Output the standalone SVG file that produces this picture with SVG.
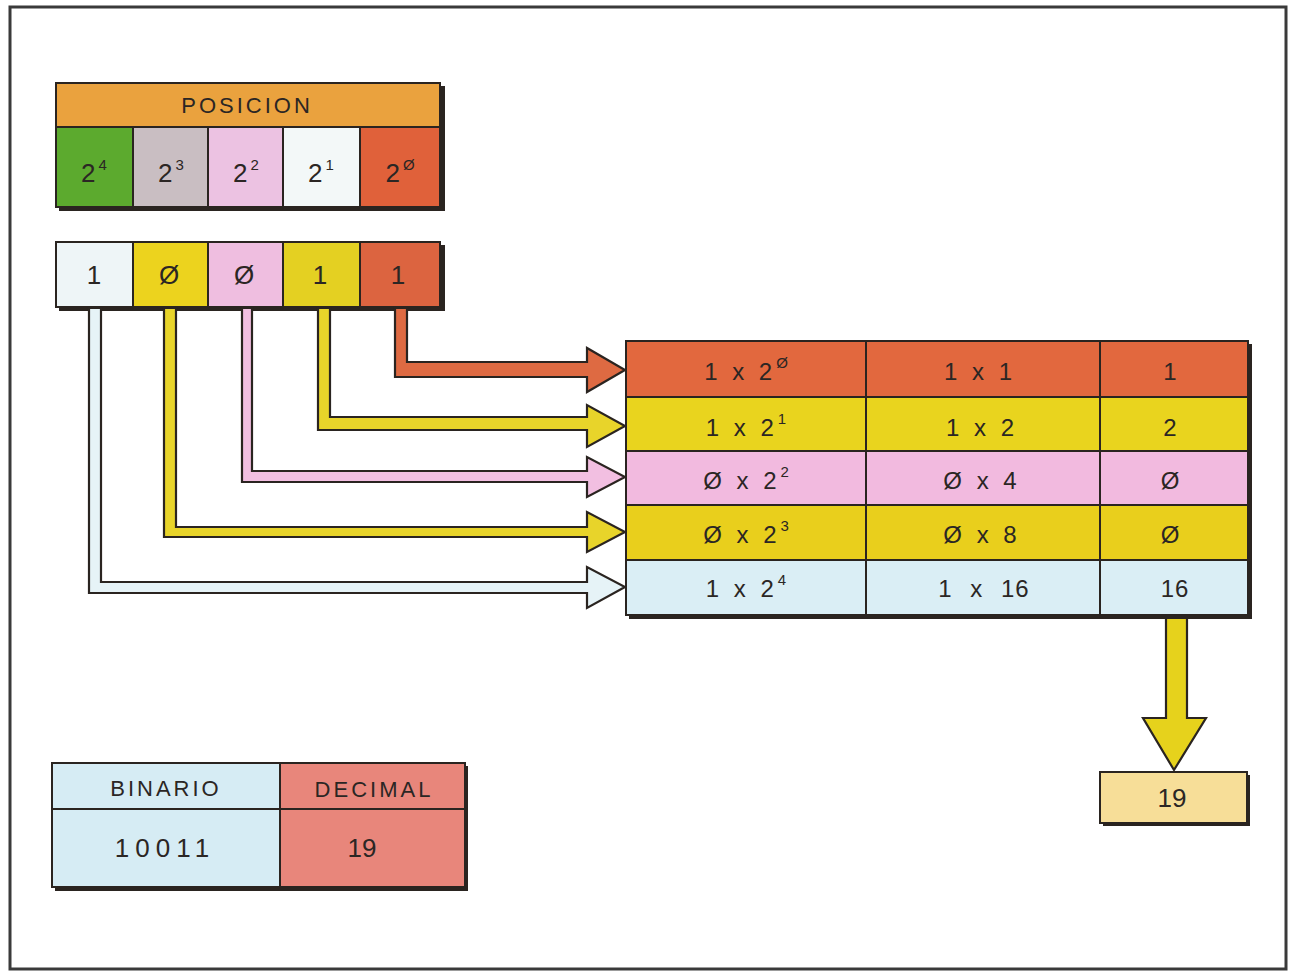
<svg xmlns="http://www.w3.org/2000/svg" width="1289" height="971" viewBox="0 0 1289 971">
<style>
  text { font-family: "Liberation Sans", Arial, sans-serif; fill: #2b2624; text-anchor: middle; }
  .cell { stroke: #2a2420; stroke-width: 2; }
  .shadow { fill: #2a2420; }
  .t22 { font-size: 22px; letter-spacing: 3px; }
  .t26 { font-size: 26px; }
  .tb { font-size: 24px; letter-spacing: 4px; }
  .sup { font-size: 15px; }
  .conn { stroke: #2a2420; stroke-width: 2.2; stroke-linejoin: miter; }
</style>
<rect x="0" y="0" width="1289" height="971" fill="#ffffff"/>
<rect x="10" y="7" width="1276" height="962" fill="none" stroke="#3a3a3a" stroke-width="3"/>

<g id="posicion">
  <rect class="shadow" x="59" y="86" width="386" height="125"/>
  <rect class="cell" x="56" y="83" width="384" height="44" fill="#eaa23e"/>
  <text class="t22" x="247" y="113">POSICION</text>
  <rect class="cell" x="56" y="127" width="77" height="80" fill="#5caa2e"/>
  <rect class="cell" x="133" y="127" width="75" height="80" fill="#c9bec2"/>
  <rect class="cell" x="208" y="127" width="75" height="80" fill="#ecc2e2"/>
  <rect class="cell" x="283" y="127" width="77" height="80" fill="#f3f8f8"/>
  <rect class="cell" x="360" y="127" width="80" height="80" fill="#e0613a"/>
  <text class="t26" x="94" y="182">2<tspan class="sup" dx="3" dy="-12">4</tspan></text>
  <text class="t26" x="171" y="182">2<tspan class="sup" dx="3" dy="-12">3</tspan></text>
  <text class="t26" x="246" y="182">2<tspan class="sup" dx="3" dy="-12">2</tspan></text>
  <text class="t26" x="321" y="182">2<tspan class="sup" dx="3" dy="-12">1</tspan></text>
  <text class="t26" x="400" y="182" fill="#4a1e12">2<tspan class="sup" dx="3" dy="-12">Ø</tspan></text>
</g>

<g id="bits">
  <rect class="shadow" x="59" y="245" width="386" height="66"/>
  <rect class="cell" x="56" y="242" width="77" height="65" fill="#eef5f7"/>
  <rect class="cell" x="133" y="242" width="75" height="65" fill="#ecd31e"/>
  <rect class="cell" x="208" y="242" width="75" height="65" fill="#efbee0"/>
  <rect class="cell" x="283" y="242" width="77" height="65" fill="#e4d022"/>
  <rect class="cell" x="360" y="242" width="80" height="65" fill="#dc6440"/>
  <text class="t26" x="94" y="284">1</text>
  <text class="t26" x="169" y="284">Ø</text>
  <text class="t26" x="244" y="284">Ø</text>
  <text class="t26" x="320" y="284">1</text>
  <text class="t26" x="398" y="284" fill="#4a1e12">1</text>
</g>

<g id="connectors">
  <polygon class="conn" fill="#de6a42" points="395,308 395,377 587,377 587,392 625,370 587,348 587,362 407,362 407,308"/>
  <polygon class="conn" fill="#e8d42a" points="318,308 318,430 587,430 587,447 625,426 587,405 587,417 330,417 330,308"/>
  <polygon class="conn" fill="#f2bfe1" points="242,308 242,482 587,482 587,497 625,477 587,457 587,471 252,471 252,308"/>
  <polygon class="conn" fill="#e8d42a" points="164,308 164,537 587,537 587,552 625,532 587,512 587,527 176,527 176,308"/>
  <polygon class="conn" fill="#e6f3f7" points="89,308 89,593 587,593 587,608 625,587 587,567 587,582 101,582 101,308"/>
  <polygon class="conn" fill="#e6d21c" points="1166,616 1166,718 1143,718 1174,770 1206,718 1187,718 1187,616"/>
</g>

<g id="calc-table">
  <rect class="shadow" x="629" y="344" width="623" height="275"/>
  <rect class="cell" x="626" y="341" width="240" height="56" fill="#e2683e"/>
  <rect class="cell" x="866" y="341" width="234" height="56" fill="#e2683e"/>
  <rect class="cell" x="1100" y="341" width="148" height="56" fill="#e2683e"/>
  <rect class="cell" x="626" y="397" width="240" height="54" fill="#e9d41e"/>
  <rect class="cell" x="866" y="397" width="234" height="54" fill="#e9d41e"/>
  <rect class="cell" x="1100" y="397" width="148" height="54" fill="#e9d41e"/>
  <rect class="cell" x="626" y="451" width="240" height="54" fill="#f2badf"/>
  <rect class="cell" x="866" y="451" width="234" height="54" fill="#f2badf"/>
  <rect class="cell" x="1100" y="451" width="148" height="54" fill="#f2badf"/>
  <rect class="cell" x="626" y="505" width="240" height="55" fill="#e9cf1c"/>
  <rect class="cell" x="866" y="505" width="234" height="55" fill="#e9cf1c"/>
  <rect class="cell" x="1100" y="505" width="148" height="55" fill="#e9cf1c"/>
  <rect class="cell" x="626" y="560" width="240" height="55" fill="#daeef5"/>
  <rect class="cell" x="866" y="560" width="234" height="55" fill="#daeef5"/>
  <rect class="cell" x="1100" y="560" width="148" height="55" fill="#daeef5"/>
  <text class="tb" x="748" y="380" fill="#5a2414">1 x 2<tspan class="sup" dy="-12">Ø</tspan></text>
  <text class="tb" x="980" y="380" fill="#5a2414">1 x 1</text>
  <text class="tb" x="1172" y="380" fill="#5a2414">1</text>
  <text class="tb" x="748" y="436">1 x 2<tspan class="sup" dy="-12">1</tspan></text>
  <text class="tb" x="982" y="436">1 x 2</text>
  <text class="tb" x="1172" y="436">2</text>
  <text class="tb" x="748" y="489">Ø x 2<tspan class="sup" dy="-12">2</tspan></text>
  <text class="tb" x="982" y="489">Ø x 4</text>
  <text class="tb" x="1172" y="489">Ø</text>
  <text class="tb" x="748" y="543">Ø x 2<tspan class="sup" dy="-12">3</tspan></text>
  <text class="tb" x="982" y="543">Ø x 8</text>
  <text class="tb" x="1172" y="543">Ø</text>
  <text class="tb" x="748" y="597">1 x 2<tspan class="sup" dy="-12">4</tspan></text>
  <text class="tb" x="984" y="597" style="letter-spacing:1px; word-spacing:10px">1 x 16</text>
  <text class="tb" x="1175" y="597" style="letter-spacing:1px">16</text>
</g>

<g id="result">
  <rect class="shadow" x="1103" y="775" width="147" height="51"/>
  <rect class="cell" x="1100" y="772" width="147" height="51" fill="#f7de98"/>
  <text class="t26" x="1172" y="807">19</text>
</g>

<g id="summary">
  <rect class="shadow" x="55" y="766" width="413" height="125"/>
  <rect class="cell" x="52" y="763" width="228" height="46" fill="#d6ecf4"/>
  <rect class="cell" x="280" y="763" width="185" height="46" fill="#e8867b"/>
  <rect class="cell" x="52" y="809" width="228" height="78" fill="#d6ecf4"/>
  <rect class="cell" x="280" y="809" width="185" height="78" fill="#e8867b"/>
  <text class="t22" x="166" y="796">BINARIO</text>
  <text class="t22" x="374" y="797" fill="#4a1e12">DECIMAL</text>
  <text class="t26" x="165" y="857" style="letter-spacing:6px">10011</text>
  <text class="t26" x="362" y="857" fill="#3a1a12">19</text>
</g>
</svg>
